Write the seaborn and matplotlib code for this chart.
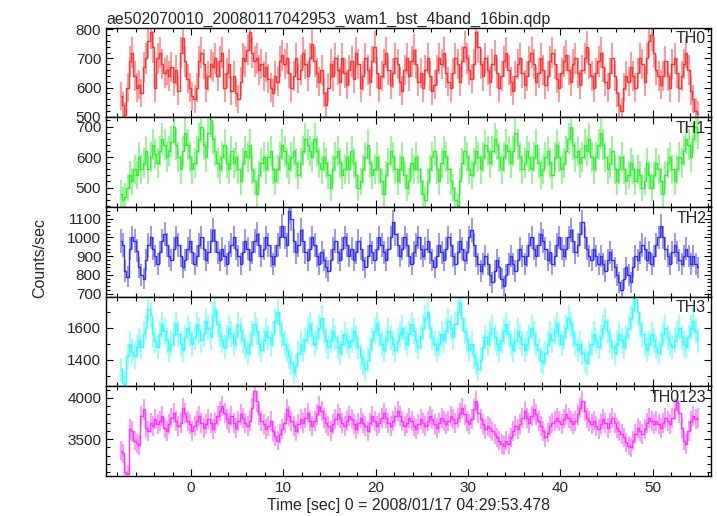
import numpy as np
import pandas as pd
import matplotlib as mpl
import matplotlib.pyplot as plt
import seaborn as sns
from matplotlib.ticker import MultipleLocator

mpl.use('Agg')

# Light curves, 0.25 s bins, first bin centre at -7.625 s (16 values = 4 s per row)
bin_width = 0.25
t_start = -7.625

th0 = [570, 540, 505, 600, 690, 720, 640, 600, 610, 580, 670, 700, 760, 790, 740, 600,
       700, 720, 680, 650, 660, 640, 670, 620, 660, 590, 720, 770, 690, 630, 600, 570,
       560, 600, 690, 720, 680, 600, 640, 680, 670, 700, 640, 690, 720, 600, 650, 680,
       590, 640, 580, 560, 620, 700, 690, 730, 790, 720, 690, 700, 660, 680, 640, 670,
       630, 600, 580, 640, 620, 690, 710, 680, 700, 650, 600, 640, 700, 630, 660, 720,
       680, 640, 700, 750, 690, 650, 620, 660, 580, 540, 600, 680, 640, 700, 660, 620,
       700, 650, 610, 660, 690, 630, 720, 680, 600, 640, 700, 660, 620, 690, 740, 650,
       600, 640, 680, 720, 660, 610, 650, 700, 680, 620, 590, 660, 700, 640, 690, 730,
       680, 620, 650, 600, 660, 700, 640, 590, 610, 660, 700, 680, 720, 650, 620, 600,
       650, 700, 680, 620, 690, 740, 700, 660, 630, 680, 790, 740, 680, 640, 700, 660,
       620, 680, 710, 650, 600, 640, 690, 720, 660, 620, 590, 640, 680, 700, 650, 610,
       640, 690, 720, 680, 620, 650, 700, 660, 610, 640, 690, 720, 680, 630, 600, 650,
       690, 710, 660, 620, 680, 700, 650, 610, 660, 700, 740, 680, 640, 600, 650, 690,
       720, 670, 620, 600, 650, 700, 640, 580, 540, 520, 600, 640, 620, 670, 640, 600,
       650, 700, 680, 620, 700, 760, 780, 720, 660, 640, 610, 640, 690, 640, 600, 680,
       700, 650, 600, 640, 680, 720, 660, 590, 560, 520, 510]

th1 = [480, 460, 470, 500, 540, 520, 560, 540, 600, 560, 580, 620, 560, 600, 640, 610,
       580, 620, 660, 640, 600, 620, 650, 700, 640, 600, 560, 620, 680, 640, 600, 560,
       580, 620, 660, 700, 640, 600, 680, 720, 660, 620, 580, 560, 600, 640, 580, 560,
       620, 580, 600, 560, 520, 580, 620, 600, 640, 560, 520, 480, 540, 580, 600, 560,
       600, 620, 560, 520, 560, 600, 640, 620, 580, 560, 600, 620, 580, 540, 580, 620,
       660, 640, 620, 600, 660, 620, 580, 560, 600, 580, 540, 500, 560, 600, 620, 580,
       540, 560, 600, 560, 620, 580, 540, 500, 520, 560, 600, 640, 580, 540, 560, 600,
       560, 520, 480, 540, 580, 620, 600, 560, 520, 560, 600, 540, 500, 520, 580, 560,
       600, 560, 520, 480, 460, 520, 560, 600, 620, 560, 520, 580, 620, 600, 560, 520,
       500, 460, 440, 520, 580, 620, 600, 560, 540, 580, 620, 600, 560, 600, 640, 620,
       580, 620, 660, 640, 600, 560, 600, 640, 620, 580, 620, 680, 640, 600, 560, 580,
       620, 600, 560, 600, 640, 580, 540, 560, 600, 620, 580, 540, 600, 640, 600, 560,
       580, 620, 660, 700, 640, 600, 620, 580, 600, 640, 620, 660, 600, 560, 600, 640,
       680, 640, 600, 560, 580, 620, 560, 520, 560, 600, 560, 520, 540, 580, 560, 520,
       560, 540, 500, 520, 580, 540, 500, 540, 580, 560, 520, 480, 540, 580, 600, 560,
       520, 560, 600, 580, 620, 660, 640, 600, 660, 700, 680]

th2 = [980, 960, 820, 790, 940, 1000, 980, 930, 840, 800, 780, 880, 960, 1000, 940, 900,
       860, 920, 980, 1020, 960, 900, 880, 940, 1000, 960, 900, 840, 880, 940, 980, 920,
       860, 900, 960, 1000, 940, 880, 920, 980, 1040, 980, 920, 880, 940, 900, 860, 920,
       960, 1000, 940, 900, 860, 920, 980, 940, 880, 920, 980, 1020, 960, 900, 940, 1000,
       960, 900, 860, 900, 960, 1000, 1060, 1000, 960, 1140, 1100, 980, 920, 960, 1040, 980,
       920, 880, 940, 1000, 960, 900, 860, 920, 880, 840, 820, 880, 940, 980, 920, 880,
       940, 1000, 960, 900, 940, 880, 920, 980, 940, 880, 840, 900, 960, 920, 880, 940,
       1000, 960, 920, 880, 940, 1000, 1080, 1020, 960, 900, 940, 1000, 960, 900, 860, 920,
       960, 1000, 940, 900, 940, 980, 920, 880, 840, 900, 960, 920, 880, 940, 1000, 960,
       900, 860, 920, 980, 940, 880, 920, 1000, 1040, 960, 900, 860, 820, 860, 900, 860,
       800, 760, 820, 880, 840, 780, 740, 800, 860, 900, 860, 820, 880, 940, 900, 860,
       900, 960, 1000, 940, 900, 960, 1020, 980, 940, 880, 920, 860, 900, 960, 1000, 940,
       900, 940, 1000, 1040, 980, 920, 960, 1020, 1080, 1000, 940, 900, 880, 940, 900, 860,
       900, 860, 820, 880, 920, 880, 840, 800, 760, 720, 780, 840, 800, 760, 840, 900,
       880, 920, 960, 940, 880, 920, 860, 900, 960, 1000, 1060, 1000, 940, 900, 860, 920,
       960, 920, 880, 860, 900, 940, 900, 860, 900, 860, 840]

th3 = [1340, 1260, 1250, 1420, 1500, 1450, 1420, 1480, 1520, 1480, 1560, 1600, 1720, 1680, 1560, 1520,
       1480, 1560, 1620, 1580, 1520, 1460, 1500, 1560, 1620, 1560, 1500, 1460, 1540, 1600, 1560, 1500,
       1540, 1620, 1580, 1520, 1560, 1640, 1600, 1540, 1680, 1720, 1620, 1560, 1520, 1480, 1540, 1600,
       1560, 1500, 1540, 1620, 1580, 1520, 1480, 1440, 1500, 1560, 1620, 1580, 1500, 1460, 1520, 1580,
       1540, 1500, 1560, 1640, 1700, 1620, 1560, 1500, 1460, 1420, 1380, 1320, 1360, 1440, 1500, 1460,
       1520, 1580, 1620, 1560, 1500, 1540, 1600, 1660, 1580, 1520, 1480, 1520, 1580, 1540, 1480, 1440,
       1500, 1560, 1520, 1480, 1520, 1580, 1540, 1480, 1420, 1380, 1340, 1400, 1460, 1520, 1580, 1620,
       1560, 1500, 1460, 1520, 1580, 1540, 1500, 1460, 1520, 1560, 1600, 1540, 1500, 1560, 1620, 1580,
       1520, 1480, 1540, 1600, 1660, 1700, 1600, 1540, 1500, 1460, 1500, 1560, 1520, 1580, 1640, 1600,
       1540, 1620, 1700, 1760, 1660, 1580, 1520, 1460, 1500, 1420, 1380, 1340, 1400, 1480, 1540, 1500,
       1560, 1600, 1540, 1500, 1460, 1520, 1580, 1620, 1560, 1500, 1460, 1520, 1580, 1540, 1500, 1460,
       1500, 1540, 1600, 1560, 1500, 1460, 1400, 1380, 1440, 1500, 1560, 1520, 1580, 1620, 1560, 1500,
       1540, 1600, 1660, 1620, 1560, 1500, 1460, 1500, 1440, 1400, 1380, 1440, 1500, 1560, 1520, 1480,
       1540, 1600, 1640, 1580, 1520, 1480, 1440, 1500, 1560, 1520, 1480, 1540, 1600, 1660, 1720, 1780,
       1700, 1620, 1560, 1500, 1460, 1500, 1560, 1520, 1480, 1440, 1500, 1560, 1600, 1540, 1500, 1480,
       1520, 1560, 1600, 1540, 1500, 1480, 1540, 1600, 1640, 1580, 1520]

th0123 = [3360, 3330, 3100, 3080, 3620, 3600, 3480, 3450, 3430, 3780, 3860, 3640, 3600, 3700, 3660, 3740,
          3680, 3720, 3780, 3640, 3600, 3680, 3760, 3820, 3720, 3660, 3700, 3880, 3820, 3720, 3680, 3600,
          3660, 3720, 3780, 3700, 3640, 3680, 3740, 3700, 3620, 3700, 3780, 3840, 3900, 3820, 3740, 3700,
          3780, 3700, 3640, 3720, 3800, 3760, 3700, 3660, 3720, 3880, 4080, 3960, 3800, 3720, 3680, 3620,
          3660, 3720, 3600, 3540, 3480, 3560, 3620, 3700, 3860, 3780, 3720, 3660, 3600, 3680, 3740, 3700,
          3760, 3820, 3720, 3660, 3720, 3800, 3900, 3840, 3760, 3700, 3660, 3600, 3680, 3740, 3800, 3760,
          3700, 3660, 3720, 3780, 3740, 3680, 3620, 3700, 3760, 3700, 3660, 3600, 3700, 3780, 3720, 3660,
          3700, 3760, 3820, 3760, 3700, 3660, 3720, 3780, 3840, 3780, 3720, 3660, 3700, 3760, 3720, 3660,
          3620, 3680, 3740, 3700, 3660, 3720, 3780, 3740, 3680, 3640, 3700, 3760, 3720, 3680, 3720, 3780,
          3740, 3700, 3760, 3820, 3880, 3800, 3720, 3680, 3740, 3860, 3960, 3820, 3740, 3680, 3620, 3660,
          3640, 3600, 3560, 3520, 3480, 3440, 3420, 3480, 3440, 3520, 3600, 3660, 3620, 3680, 3760, 3840,
          3760, 3700, 3780, 3860, 3800, 3720, 3660, 3600, 3520, 3580, 3660, 3700, 3720, 3760, 3720, 3680,
          3740, 3800, 3760, 3720, 3680, 3720, 3800, 3880, 3960, 3840, 3760, 3720, 3680, 3720, 3660, 3620,
          3680, 3740, 3700, 3640, 3700, 3760, 3700, 3640, 3600, 3560, 3520, 3460, 3420, 3400, 3480, 3560,
          3640, 3600, 3560, 3620, 3700, 3760, 3720, 3680, 3720, 3680, 3640, 3700, 3760, 3720, 3680, 3760,
          3860, 3960, 3820, 3640, 3480, 3440, 3600, 3720, 3780, 3740, 3760]

bands = ['TH0', 'TH1', 'TH2', 'TH3', 'TH0123']
series = [th0, th1, th2, th3, th0123]
colors = ['#ff3333', '#33ee33', '#3333ee', '#33ffff', '#ff33ff']
ylims = [(498, 805), (436, 730), (684, 1162), (1233, 1794), (3052, 4141)]
major = [100, 100, 100, 200, 500]
minor = [20, 20, 20, 100, 100]

sns.set_style('ticks')
plt.rcParams['font.family'] = ['Liberation Sans', 'DejaVu Sans']
plt.rcParams['xtick.direction'] = 'in'
plt.rcParams['ytick.direction'] = 'in'

fig, axes = plt.subplots(5, 1, sharex=True, figsize=(7.17, 5.16), dpi=100)
fig.subplots_adjust(left=0.148, right=0.9916, top=0.9463, bottom=0.0775, hspace=0)

for ax, name, vals, col, yl, mj, mn in zip(axes, bands, series, colors, ylims, major, minor):
    rate = np.array(vals, dtype=float)
    t = t_start + bin_width * np.arange(len(rate))
    # Poisson error bars from counts per bin
    err = np.sqrt(rate * bin_width) / bin_width
    df = pd.DataFrame({'time': t, 'rate': rate})
    ax.vlines(t, rate - err, rate + err, color=col, lw=1.4, alpha=0.5)
    sns.lineplot(data=df, x='time', y='rate', ax=ax, color=col, lw=1.0,
                 drawstyle='steps-mid', estimator=None)
    ax.set_ylim(*yl)
    ax.set_xlim(-9.2, 56.3)
    ax.yaxis.set_major_locator(MultipleLocator(mj))
    ax.yaxis.set_minor_locator(MultipleLocator(mn))
    ax.xaxis.set_major_locator(MultipleLocator(10))
    ax.xaxis.set_minor_locator(MultipleLocator(2))
    ax.tick_params(which='both', top=True, right=True, labelsize=11, color='black')
    ax.tick_params(which='major', length=5, width=0.8)
    ax.tick_params(which='minor', length=3, width=0.8)
    ax.set_xlabel('')
    ax.set_ylabel('')
    for s in ax.spines.values():
        s.set_linewidth(1.0)
        s.set_color('black')
    ax.text(0.992, 0.96, name, transform=ax.transAxes, ha='right', va='top', fontsize=11.5)

axes[-1].set_xlabel('Time [sec] 0 = 2008/01/17 04:29:53.478', fontsize=11.5, labelpad=2)
fig.text(0.056, 0.5, 'Counts/sec', rotation=90, ha='center', va='center', fontsize=11.5)
axes[0].set_title('ae502070010_20080117042953_wam1_bst_4band_16bin.qdp', loc='left',
                  fontsize=11.5, pad=3)

plt.savefig('out.png', dpi=100)
